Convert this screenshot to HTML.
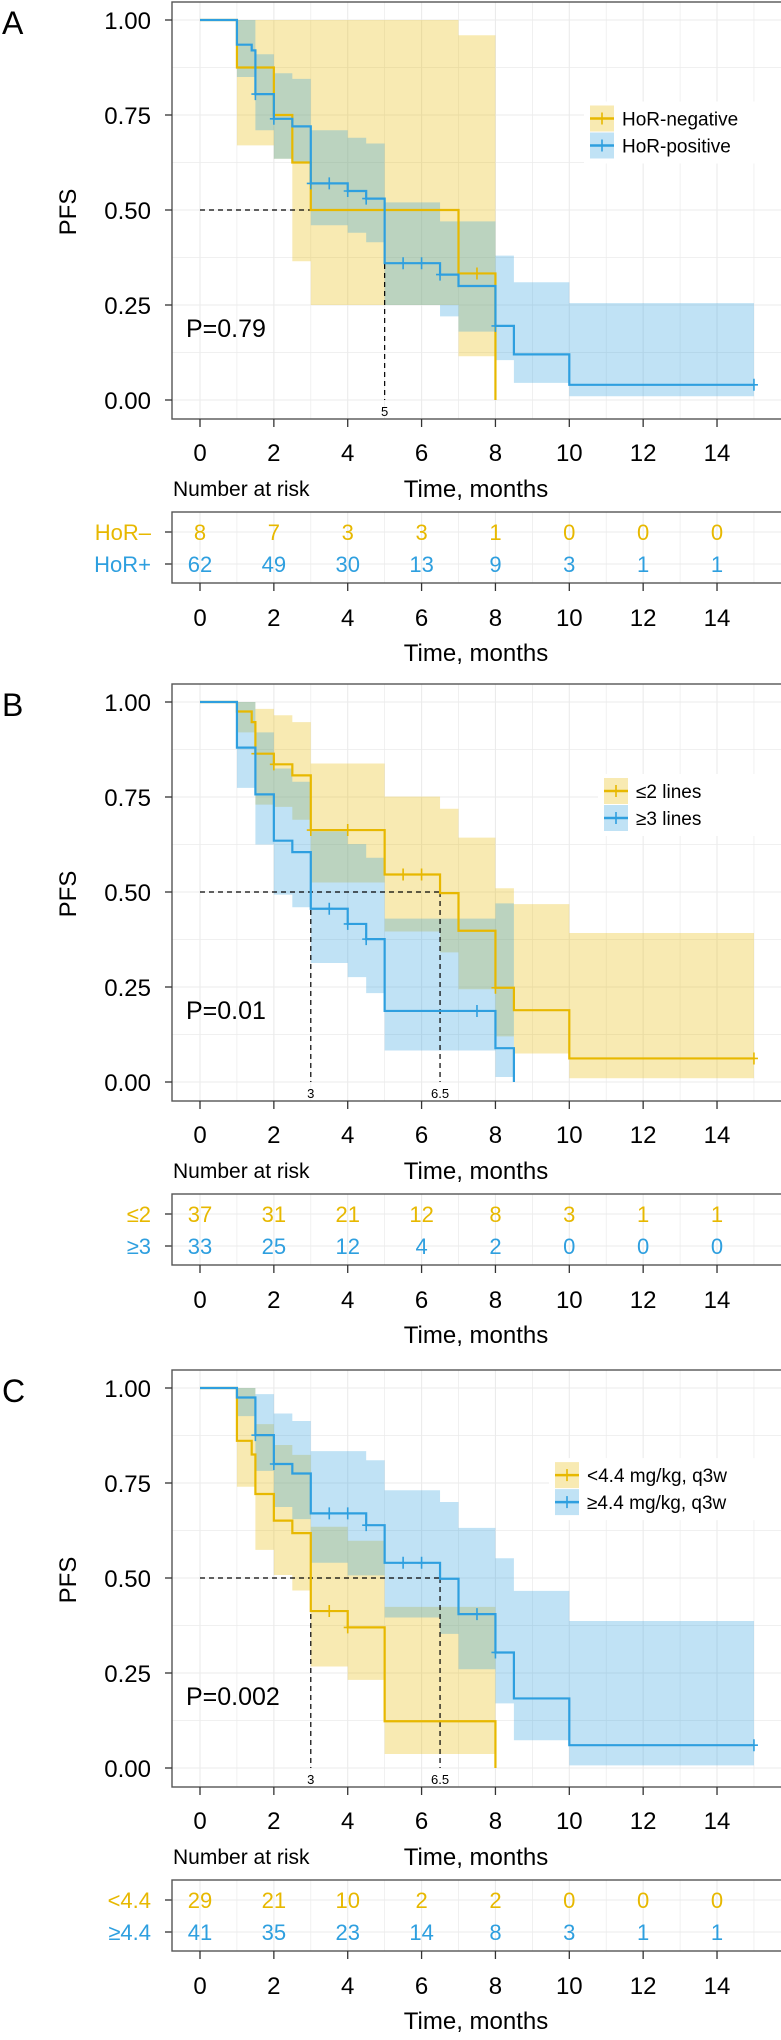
<!DOCTYPE html>
<html><head><meta charset="utf-8"><style>
html,body{margin:0;padding:0;background:#fff;}
svg{display:block;font-family:"Liberation Sans",Arial,sans-serif;}
</style></head><body>
<svg id="fig" width="781" height="2040" viewBox="0 0 781 2040" xmlns="http://www.w3.org/2000/svg"></svg>
<script>
// ---------- Data ----------
const xTicks = [0,2,4,6,8,10,12,14];
const yTicks = [0,0.25,0.5,0.75,1];
const yTickLabels = ["0.00","0.25","0.50","0.75","1.00"];

// Panel A
const aOrangeT = [0,1,2,2.5,3,7,8];
const aOrangeS = [1,0.875,0.75,0.625,0.5,0.333,0];
const aOrangeEnd = 8;
const aOrangeCens = [7.5];
const aOrangeCiT = [1,2,2.5,3,7];
const aOrangeCiUp = [1,1,1,1,0.96];
const aOrangeCiLo = [0.67,0.635,0.365,0.25,0.115];
const aOrangeCiEnd = 8;
const aBlueT = [0,1,1.4,1.5,2,2.5,3,4,4.5,5,6.5,7,8,8.5,10];
const aBlueS = [1,0.935,0.92,0.805,0.74,0.72,0.57,0.55,0.53,0.36,0.33,0.30,0.195,0.12,0.04];
const aBlueEnd = 15;
const aBlueCens = [1.5,2,3,3.5,4,4.5,5.5,6,6.5,8,15];
const aBlueCiT = [1,1.5,2,2.5,3,4,4.5,5,6.5,7,8,8.5,10];
const aBlueCiUp = [1,0.91,0.86,0.845,0.71,0.69,0.675,0.52,0.47,0.47,0.38,0.31,0.255];
const aBlueCiLo = [0.85,0.71,0.635,0.625,0.46,0.44,0.415,0.25,0.22,0.18,0.105,0.045,0.01];
const aBlueCiEnd = 15;
const aMedians = [5];
const aRiskOrange = [8,7,3,3,1,0,0,0];
const aRiskBlue = [62,49,30,13,9,3,1,1];

// Panel B
const bOrangeT = [0,1,1.4,1.5,2,2.5,3,5,6.5,7,8,8.5,10];
const bOrangeS = [1,0.975,0.947,0.864,0.836,0.807,0.663,0.546,0.497,0.398,0.248,0.189,0.062];
const bOrangeEnd = 15;
const bOrangeCens = [1.5,2,3,4,5.5,6,8,15];
const bOrangeCiT = [1,1.5,2,2.5,3,5,6.5,7,8,8.5,10];
const bOrangeCiUp = [1,0.982,0.965,0.947,0.838,0.751,0.719,0.643,0.51,0.468,0.392];
const bOrangeCiLo = [0.92,0.73,0.724,0.69,0.525,0.396,0.341,0.244,0.12,0.075,0.01];
const bOrangeCiEnd = 15;
const bBlueT = [0,1,1.5,2,2.5,3,4,4.5,5,8,8.5];
const bBlueS = [1,0.88,0.757,0.635,0.605,0.456,0.416,0.376,0.187,0.089,0];
const bBlueEnd = 8.5;
const bBlueCens = [3.5,4,4.5,7.5];
const bBlueCiT = [1,1.5,2,2.5,3,4,4.5,5,7,8];
const bBlueCiUp = [1,0.92,0.825,0.79,0.66,0.626,0.59,0.43,0.43,0.47];
const bBlueCiLo = [0.774,0.625,0.493,0.46,0.313,0.276,0.234,0.083,0.083,0.013];
const bBlueCiEnd = 8.5;
const bMedians = [3,6.5];
const bRiskOrange = [37,31,21,12,8,3,1,1];
const bRiskBlue = [33,25,12,4,2,0,0,0];

// Panel C
const cOrangeT = [0,1,1.4,1.5,2,2.5,3,4,5,8];
const cOrangeS = [1,0.861,0.825,0.721,0.651,0.618,0.413,0.370,0.123,0];
const cOrangeEnd = 8;
const cOrangeCens = [3.5,4];
const cOrangeCiT = [1,1.5,2,2.5,3,4,5];
const cOrangeCiUp = [1,0.905,0.85,0.824,0.635,0.598,0.424];
const cOrangeCiLo = [0.74,0.574,0.508,0.467,0.267,0.232,0.037];
const cOrangeCiEnd = 8;
const cBlueT = [0,1,1.5,2,2.5,3,4.5,5,6.5,7,8,8.5,10];
const cBlueS = [1,0.975,0.876,0.80,0.775,0.67,0.639,0.54,0.498,0.405,0.304,0.183,0.06];
const cBlueEnd = 15;
const cBlueCens = [1.5,2,3.5,4,4.5,5.5,6,7.5,8,15];
const cBlueCiT = [1,1.5,2,2.5,3,4,4.5,5,6.5,7,8,8.5,10];
const cBlueCiUp = [1,0.984,0.933,0.913,0.834,0.834,0.81,0.731,0.70,0.632,0.552,0.466,0.387];
const cBlueCiLo = [0.926,0.782,0.687,0.655,0.54,0.507,0.507,0.396,0.353,0.26,0.17,0.073,0.007];
const cBlueCiEnd = 15;
const cMedians = [3,6.5];
const cRiskOrange = [29,21,10,2,2,0,0,0];
const cRiskBlue = [41,35,23,14,8,3,1,1];

// ---------- Drawing ----------
const ORANGE = "#E7B800", BLUE = "#2E9FDF";
const svg = document.getElementById('fig');
const NS = "http://www.w3.org/2000/svg";
const PL = 172, PR = 781;
function X(t){ return 200 + t*36.93; }
function mk(tag, attrs, parent){
  const e = document.createElementNS(NS, tag);
  for (const k in attrs) e.setAttribute(k, attrs[k]);
  (parent||svg).appendChild(e);
  return e;
}
function txt(s, attrs, parent){ const e = mk('text', attrs, parent); e.textContent = s; return e; }

function stepPath(T, S, end, Y){
  let d = "M"+X(T[0])+","+Y(S[0]);
  for (let i=1;i<T.length;i++){ d += " H"+X(T[i])+" V"+Y(S[i]); }
  d += " H"+X(end);
  return d;
}
function ciPath(T, U, L, end, Y){
  let d = "M"+X(T[0])+","+Y(U[0]);
  for (let i=0;i<T.length;i++){
    const t2 = i+1<T.length?T[i+1]:end;
    d += " L"+X(T[i])+","+Y(U[i])+" L"+X(t2)+","+Y(U[i]);
  }
  for (let i=T.length-1;i>=0;i--){
    const t2 = i+1<T.length?T[i+1]:end;
    d += " L"+X(t2)+","+Y(L[i])+" L"+X(T[i])+","+Y(L[i]);
  }
  return d+" Z";
}
function survAt(T, S, t){
  let v = S[0];
  for (let i=0;i<T.length;i++) if (T[i] <= t + 1e-9) v = S[i];
  return v;
}

function drawPanel(p){
  const y0 = p.y0, y1 = y0 - 380;
  const Y = v => y0 - v*380;
  const g = mk('g', {});
  
  
  const top = y1 - 18, bot = y0 + 19;
  // grid
  const grid = mk('g', {}, g);
  
  
  for (let t=0;t<=15;t++) mk('line',{x1:X(t),x2:X(t),y1:top,y2:bot,stroke:"#ebebeb","stroke-width":t%2?0.7:1.1},grid);
  for (let v=0; v<=1.0001; v+=0.125) mk('line',{x1:PL,x2:PR,y1:Y(v),y2:Y(v),stroke:"#ebebeb","stroke-width":(Math.round(v*8)%2)?0.7:1.1},grid);
  // CI
  const ciO = mk('path',{d:ciPath(p.oCiT,p.oCiUp,p.oCiLo,p.oCiEnd,Y),fill:ORANGE,"fill-opacity":0.3},g);
  
  
  const ciB = mk('path',{d:ciPath(p.bCiT,p.bCiUp,p.bCiLo,p.bCiEnd,Y),fill:BLUE,"fill-opacity":0.3},g);
  
  
  // medians
  const maxMed = Math.max(...p.medians);
  const mh = mk('line',{x1:X(0),x2:X(maxMed),y1:Y(0.5),y2:Y(0.5),stroke:"#000","stroke-width":1.2,"stroke-dasharray":"5,4"},g);
  
  
  p.medians.forEach(m=>{
    const ml = mk('line',{x1:X(m),x2:X(m),y1:Y(0.5),y2:Y(0),stroke:"#000","stroke-width":1.2,"stroke-dasharray":"5,4"},g);
    
    
    const mt = txt(String(m),{x:X(m),y:y0+16,"text-anchor":"middle","font-size":13,fill:"#000"},g);
    
    
  });
  // curves
  [[p.oT,p.oS,p.oEnd,p.oCens,ORANGE,'orange'],[p.bT,p.bS,p.bEnd,p.bCens,BLUE,'blue']].forEach(c=>{
    const ln = mk('path',{d:stepPath(c[0],c[1],c[2],Y),fill:"none",stroke:c[4],"stroke-width":2.2},g);
    
    
    c[3].forEach(t=>{
      const v = survAt(c[0],c[1],t);
      const cm = mk('path',{d:"M"+(X(t)-4)+","+Y(v)+" H"+(X(t)+4)+" M"+X(t)+","+(Y(v)-6)+" V"+(Y(v)+6),stroke:c[4],"stroke-width":1.6,fill:"none"},g);
      
      
    });
  });
  // border
  mk('rect',{x:PL,y:top,width:PR-PL+2,height:bot-top,fill:"none",stroke:"#555","stroke-width":1.4},g);
  // y axis
  yTicks.forEach((v,i)=>{
    mk('line',{x1:PL-7,x2:PL,y1:Y(v),y2:Y(v),stroke:"#333","stroke-width":1.3},g);
    const yl = txt(yTickLabels[i],{x:151,y:Y(v)+9,"text-anchor":"end","font-size":24,fill:"#000"},g);
    
    
  });
  const yt = txt("PFS",{x:0,y:0,transform:"translate(76,"+(Y(0.5)+2)+") rotate(-90)","text-anchor":"middle","font-size":24,fill:"#000"},g);
  
  
  const pl = txt(p.letter,{x:2,y:y1+14,"font-size":32,fill:"#000"},g);
  
  
  const pv = txt(p.pval,{x:186,y:Y(0.25)+32,"font-size":25,fill:"#000"},g);
  
  
  // x axis
  xTicks.forEach(t=>{
    mk('line',{x1:X(t),x2:X(t),y1:bot,y2:bot+8,stroke:"#333","stroke-width":1.3},g);
    const xl = txt(String(t),{x:X(t),y:y0+61,"text-anchor":"middle","font-size":24,fill:"#000"},g);
    
    
  });
  const nar = txt("Number at risk",{x:173,y:y0+96,"font-size":21,fill:"#000"},g);
  
  
  const xt = txt("Time, months",{x:476,y:y0+97,"text-anchor":"middle","font-size":24,fill:"#000"},g);
  
  
  // legend
  const lg = mk('g',{},g);
  
  
  const lx = p.legX, ly = Y(p.legY);
  mk('rect',{x:lx-6,y:ly-4,width:PR-lx+6,height:62,fill:"#fff"},lg);
  [[ORANGE,p.legO],[BLUE,p.legB]].forEach((e,i)=>{
    const ey = ly + i*27;
    const en = mk('g',{},lg);
    
    
    mk('rect',{x:lx,y:ey,width:24,height:26,fill:e[0],"fill-opacity":0.3},en);
    mk('line',{x1:lx,x2:lx+24,y1:ey+13,y2:ey+13,stroke:e[0],"stroke-width":2.5},en);
    mk('line',{x1:lx+12,x2:lx+12,y1:ey+7,y2:ey+19,stroke:e[0],"stroke-width":1.6},en);
    txt(e[1],{x:lx+32,y:ey+20,"font-size":19,fill:"#000"},en);
  });
  // risk table
  const rt = mk('g',{},g);
  
  
  const rtop = y0+112, rbot = y0+183;
  for (let t=0;t<=15;t++) mk('line',{x1:X(t),x2:X(t),y1:rtop,y2:rbot,stroke:"#ebebeb","stroke-width":t%2?0.7:1.1},rt);
  const rows = [[y0+132,p.riskO,ORANGE,p.rowO],[y0+164,p.riskB,BLUE,p.rowB]];
  rows.forEach(r=>{
    mk('line',{x1:PL,x2:PR,y1:r[0],y2:r[0],stroke:"#ebebeb","stroke-width":1.1},rt);
    mk('line',{x1:PL-7,x2:PL,y1:r[0],y2:r[0],stroke:"#333","stroke-width":1.3},rt);
    const rl = txt(r[3],{x:151,y:r[0]+8,"text-anchor":"end","font-size":22,fill:r[2]},rt);
    
    
    r[1].forEach((n,i)=>{
      const rn = txt(String(n),{x:X(xTicks[i]),y:r[0]+8,"text-anchor":"middle","font-size":22,fill:r[2]},rt);
      
      
    });
  });
  mk('rect',{x:PL,y:rtop,width:PR-PL+2,height:rbot-rtop,fill:"none",stroke:"#555","stroke-width":1.4},rt);
  xTicks.forEach(t=>{
    mk('line',{x1:X(t),x2:X(t),y1:rbot,y2:rbot+8,stroke:"#333","stroke-width":1.3},rt);
    const xl2 = txt(String(t),{x:X(t),y:y0+226,"text-anchor":"middle","font-size":24,fill:"#000"},rt);
    
    
  });
  const xt2 = txt("Time, months",{x:476,y:y0+261,"text-anchor":"middle","font-size":24,fill:"#000"},rt);
  
  
}

drawPanel({id:'a',letter:'A',y0:400,pval:'P=0.79',
  oT:aOrangeT,oS:aOrangeS,oEnd:aOrangeEnd,oCens:aOrangeCens,oCiT:aOrangeCiT,oCiUp:aOrangeCiUp,oCiLo:aOrangeCiLo,oCiEnd:aOrangeCiEnd,
  bT:aBlueT,bS:aBlueS,bEnd:aBlueEnd,bCens:aBlueCens,bCiT:aBlueCiT,bCiUp:aBlueCiUp,bCiLo:aBlueCiLo,bCiEnd:aBlueCiEnd,
  medians:aMedians,riskO:aRiskOrange,riskB:aRiskBlue,rowO:'HoR–',rowB:'HoR+',
  legX:590,legY:0.775,legO:'HoR-negative',legB:'HoR-positive'});
drawPanel({id:'b',letter:'B',y0:1082,pval:'P=0.01',
  oT:bOrangeT,oS:bOrangeS,oEnd:bOrangeEnd,oCens:bOrangeCens,oCiT:bOrangeCiT,oCiUp:bOrangeCiUp,oCiLo:bOrangeCiLo,oCiEnd:bOrangeCiEnd,
  bT:bBlueT,bS:bBlueS,bEnd:bBlueEnd,bCens:bBlueCens,bCiT:bBlueCiT,bCiUp:bBlueCiUp,bCiLo:bBlueCiLo,bCiEnd:bBlueCiEnd,
  medians:bMedians,riskO:bRiskOrange,riskB:bRiskBlue,rowO:'≤2',rowB:'≥3',
  legX:604,legY:0.80,legO:'≤2 lines',legB:'≥3 lines'});
drawPanel({id:'c',letter:'C',y0:1768,pval:'P=0.002',
  oT:cOrangeT,oS:cOrangeS,oEnd:cOrangeEnd,oCens:cOrangeCens,oCiT:cOrangeCiT,oCiUp:cOrangeCiUp,oCiLo:cOrangeCiLo,oCiEnd:cOrangeCiEnd,
  bT:cBlueT,bS:cBlueS,bEnd:cBlueEnd,bCens:cBlueCens,bCiT:cBlueCiT,bCiUp:cBlueCiUp,bCiLo:cBlueCiLo,bCiEnd:cBlueCiEnd,
  medians:cMedians,riskO:cRiskOrange,riskB:cRiskBlue,rowO:'<4.4',rowB:'≥4.4',
  legX:555,legY:0.805,legO:'<4.4 mg/kg, q3w',legB:'≥4.4 mg/kg, q3w'});
</script>
</body></html>
